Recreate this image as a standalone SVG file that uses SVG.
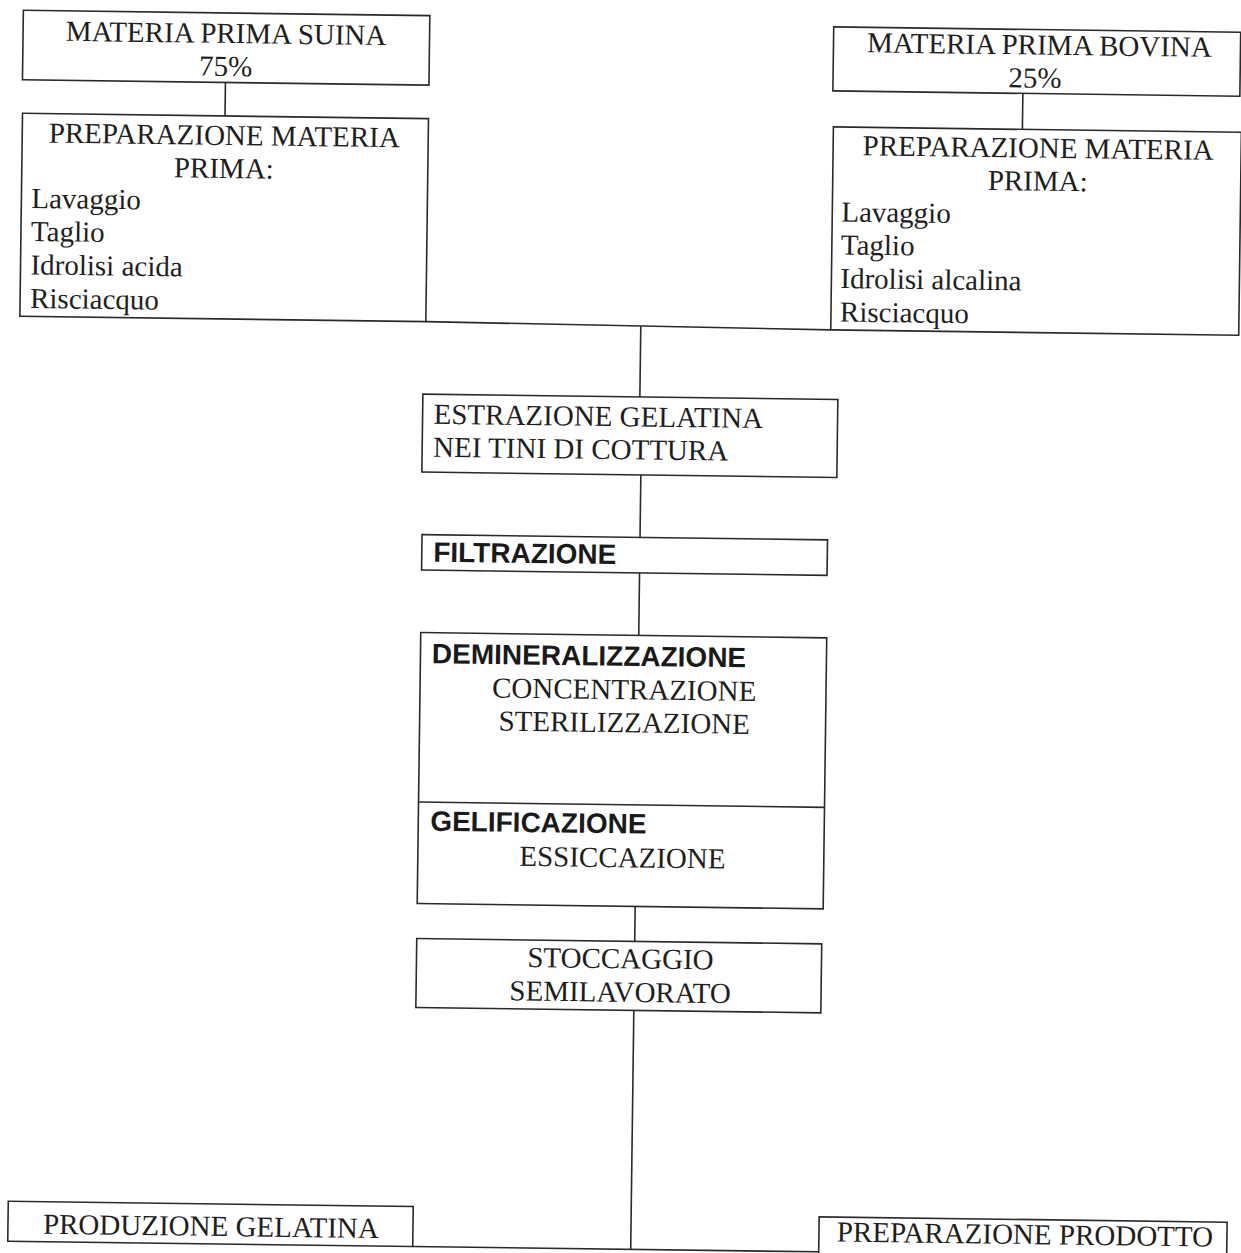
<svg xmlns="http://www.w3.org/2000/svg" width="1241" height="1253" viewBox="0 0 1241 1253">
<style>
.box{fill:none;stroke:#2a2a2a;stroke-width:1.6}
.ln{fill:none;stroke:#2a2a2a;stroke-width:1.6}
.t{font-family:"Liberation Serif","Times New Roman",serif;font-size:29px;fill:#1e1e1e}
.c{text-anchor:middle}
.b{font-family:"Liberation Sans",Arial,sans-serif;font-size:28px;font-weight:bold;fill:#1a1a1a}
</style>
<rect width="1241" height="1253" fill="#ffffff"/>
<g transform="rotate(0.75)">
<g id="connectors">
<line class="ln" x1="226.5" y1="79.5" x2="226.5" y2="113"/>
<line class="ln" x1="1024" y1="80" x2="1024" y2="116"/>
<line class="ln" x1="430" y1="316" x2="835" y2="319"/>
<line class="ln" x1="645" y1="317.5" x2="645" y2="388.5"/>
<line class="ln" x1="647" y1="466.5" x2="647" y2="529"/>
<line class="ln" x1="647" y1="564.5" x2="647" y2="627"/>
<line class="ln" x1="647" y1="898" x2="647" y2="933"/>
<line class="ln" x1="647" y1="1002" x2="647" y2="1241"/>
<line class="ln" x1="429" y1="1241" x2="835" y2="1241"/>
</g>
<g id="n1">
<rect class="box" x="23.5" y="10" width="406.5" height="69.5"/>
<text class="t c" x="226.5" y="40">MATERIA PRIMA SUINA</text>
<text class="t c" x="226.5" y="73">75%</text>
</g>
<g id="n2">
<rect class="box" x="24" y="113" width="406" height="203"/>
<text class="t c" x="226" y="142">PREPARAZIONE MATERIA</text>
<text class="t c" x="226" y="175">PRIMA:</text>
<text class="t" x="34" y="207.5">Lavaggio</text>
<text class="t" x="34" y="240.5">Taglio</text>
<text class="t" x="34" y="274">Idrolisi acida</text>
<text class="t" x="34" y="307.5">Risciacquo</text>
</g>
<g id="n3">
<rect class="box" x="834" y="16" width="407" height="64"/>
<text class="t c" x="1040" y="41">MATERIA PRIMA BOVINA</text>
<text class="t c" x="1036" y="74">25%</text>
</g>
<g id="n4">
<rect class="box" x="835" y="116" width="408" height="203"/>
<text class="t c" x="1040" y="144">PREPARAZIONE MATERIA</text>
<text class="t c" x="1040" y="177">PRIMA:</text>
<text class="t" x="844" y="210.5">Lavaggio</text>
<text class="t" x="844" y="243.5">Taglio</text>
<text class="t" x="844" y="277">Idrolisi alcalina</text>
<text class="t" x="844" y="310.5">Risciacquo</text>
</g>
<g id="n5">
<rect class="box" x="428" y="388.5" width="415" height="78"/>
<text class="t" x="439" y="418">ESTRAZIONE GELATINA</text>
<text class="t" x="439" y="451">NEI TINI DI COTTURA</text>
</g>
<g id="n6">
<rect class="box" x="429" y="529" width="405.5" height="35.5"/>
<text class="b" x="440.5" y="556">FILTRAZIONE</text>
</g>
<g id="n7">
<rect class="box" x="429" y="627" width="406" height="271"/>
<line class="ln" x1="429" y1="796.5" x2="835" y2="796.5"/>
<text class="b" x="440.5" y="657.5">DEMINERALIZZAZIONE</text>
<text class="t" x="501" y="691">CONCENTRAZIONE</text>
<text class="t" x="508" y="724">STERILIZZAZIONE</text>
<text class="b" x="441" y="825">GELIFICAZIONE</text>
<text class="t" x="530.5" y="859">ESSICCAZIONE</text>
</g>
<g id="n8">
<rect class="box" x="429" y="933" width="405" height="69"/>
<text class="t c" x="633" y="960">STOCCAGGIO</text>
<text class="t c" x="633" y="993.5">SEMILAVORATO</text>
</g>
<g id="n9">
<rect class="box" x="24" y="1201" width="405" height="40"/>
<text class="t c" x="227" y="1233">PRODUZIONE GELATINA</text>
</g>
<g id="n10">
<rect class="box" x="835" y="1206" width="408" height="45"/>
<text class="t c" x="1041" y="1230.5">PREPARAZIONE PRODOTTO</text>
</g>
</g>
</svg>
